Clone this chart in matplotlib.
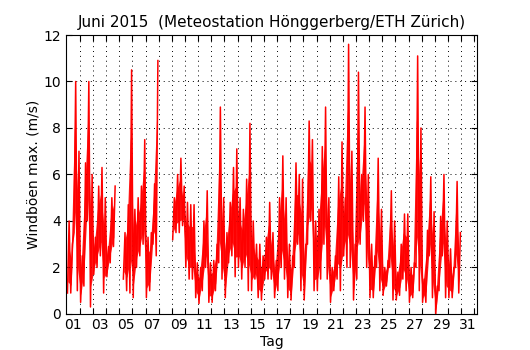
import matplotlib
matplotlib.use('Agg')
import matplotlib.pyplot as plt
import numpy as np

nan = np.nan

# 6-hourly minimum / maximum of the gusts (m/s); nan = no data
gust_lo = [
    0.9, 0.9, 3.5, 1.0,   # 01
    0.5, 1.2, 4.0, 0.3,   # 02
    1.7, 2.0, 2.5, 0.9,   # 03
    1.6, 2.2, 2.9, nan,   # 04
    nan, 1.5, 1.0, 0.9,   # 05
    0.7, 2.0, 2.5, 3.0,   # 06
    0.7, 1.0, 3.0, 2.5,   # 07
    nan, nan, nan, nan,   # 08
    3.2, 3.5, 3.5, 3.8,   # 09
    2.0, 1.5, 1.5, 0.7,   # 10
    0.45, 1.0, 2.0, 0.5,  # 11
    0.5, 1.0, 2.2, 1.5,   # 12
    0.7, 2.2, 2.5, 1.6,   # 13
    2.0, 1.5, 2.0, 1.0,   # 14
    1.0, 1.5, 0.7, 0.6,   # 15
    1.5, 1.5, 1.5, 0.7,   # 16
    1.0, 2.0, 1.5, 0.7,   # 17
    0.6, 2.0, 3.0, 1.0,   # 18
    0.6, 3.0, 4.0, 1.0,   # 19
    1.0, 1.5, 3.0, 1.5,   # 20
    0.5, 1.0, 1.5, 1.0,   # 21
    2.5, 2.0, 2.0, 0.6,   # 22
    1.5, 3.0, 4.0, 2.0,   # 23
    0.7, 0.7, 2.0, 1.0,   # 24
    0.8, 1.2, 2.0, 0.6,   # 25
    0.6, 0.8, 1.5, 1.0,   # 26
    0.5, 0.7, 2.0, 1.0,   # 27
    0.5, 0.5, 2.5, 0.7,   # 28
    0.0, 1.0, 2.5, 0.7,   # 29
    0.7, 0.7, 2.0, 0.9,   # 30
]
gust_hi = [
    4.0, 3.0, 10.0, 7.0,
    2.5, 6.5, 10.0, 6.0,
    3.3, 5.5, 6.3, 5.0,
    2.9, 5.0, 5.5, nan,
    nan, 3.5, 4.7, 10.5,
    4.5, 5.0, 5.5, 7.5,
    3.3, 3.5, 5.6, 10.9,
    nan, nan, nan, nan,
    5.0, 6.0, 6.7, 5.5,
    4.8, 4.7, 4.7, 2.2,
    2.0, 4.0, 5.3, 2.2,
    2.3, 3.0, 8.9, 5.0,
    3.5, 4.8, 6.3, 7.1,
    5.0, 4.5, 5.8, 8.2,
    4.0, 3.0, 3.0, 2.5,
    3.3, 4.8, 3.5, 2.3,
    5.0, 6.8, 5.0, 3.0,
    2.5, 6.5, 6.0, 5.8,
    3.0, 8.3, 7.5, 4.0,
    4.5, 7.2, 8.9, 5.0,
    2.0, 2.5, 5.9, 7.4,
    5.0, 11.6, 7.0, 3.0,
    10.4, 6.0, 8.9, 6.0,
    3.0, 2.5, 6.7, 4.5,
    2.0, 2.3, 5.3, 4.0,
    1.8, 3.0, 4.3, 4.3,
    2.0, 2.2, 11.1, 8.0,
    1.5, 3.6, 5.9, 4.4,
    1.2, 4.2, 6.0, 4.0,
    2.8, 2.0, 5.7, 3.5,
]

day_labels = ['%02d' % d for d in range(1, 32, 2)]

# time axis in days since 1 June 00:00, lo and hi alternating inside each block
n = len(gust_lo)
t0 = np.arange(n) / 4.0
x = np.empty(2 * n)
y = np.empty(2 * n)
x[0::2] = t0 + 1 / 16.
x[1::2] = t0 + 3 / 16.
y[0::2] = gust_lo
y[1::2] = gust_hi

fig = plt.figure(figsize=(5.3, 3.5), dpi=100, facecolor='white')
ax = fig.add_axes([0.1245, 0.103, 0.7755, 0.797])
lo = np.array(gust_lo)
hi = np.array(gust_hi)
# dense core of each block, the line itself carries the extremes
ax.fill_between(t0 + 0.125, lo + 0.15 * (hi - lo), hi - 0.3 * (hi - lo),
                color='red', lw=0, alpha=0.9)
ax.plot(x, y, color='red', lw=1.1)

ax.set_xlim(-0.05, 31.2)
ax.set_ylim(0, 12)
ax.set_yticks(range(0, 13, 2))
ax.set_xticks(range(1, 32))
ax.set_xticklabels([])
ax.set_xticks(np.arange(0.5, 31, 2), minor=True)
ax.set_xticklabels(day_labels, minor=True)
ax.tick_params(axis='x', which='minor', length=0, pad=3)
ax.tick_params(which='major', direction='in', length=4, top=True, right=True,
               labelsize=10)
ax.tick_params(axis='x', which='minor', labelsize=10)
ax.grid(True, which='major', color='black', linestyle=(0, (1, 4)), lw=0.7)

ax.set_title('Juni 2015  (Meteostation Hönggerberg/ETH Zürich)', fontsize=11)
ax.set_xlabel('Tag', fontsize=10, labelpad=2)
ax.set_ylabel('Windböen max. (m/s)', fontsize=10, labelpad=2)

fig.savefig('out.png', dpi=100, facecolor='white')
